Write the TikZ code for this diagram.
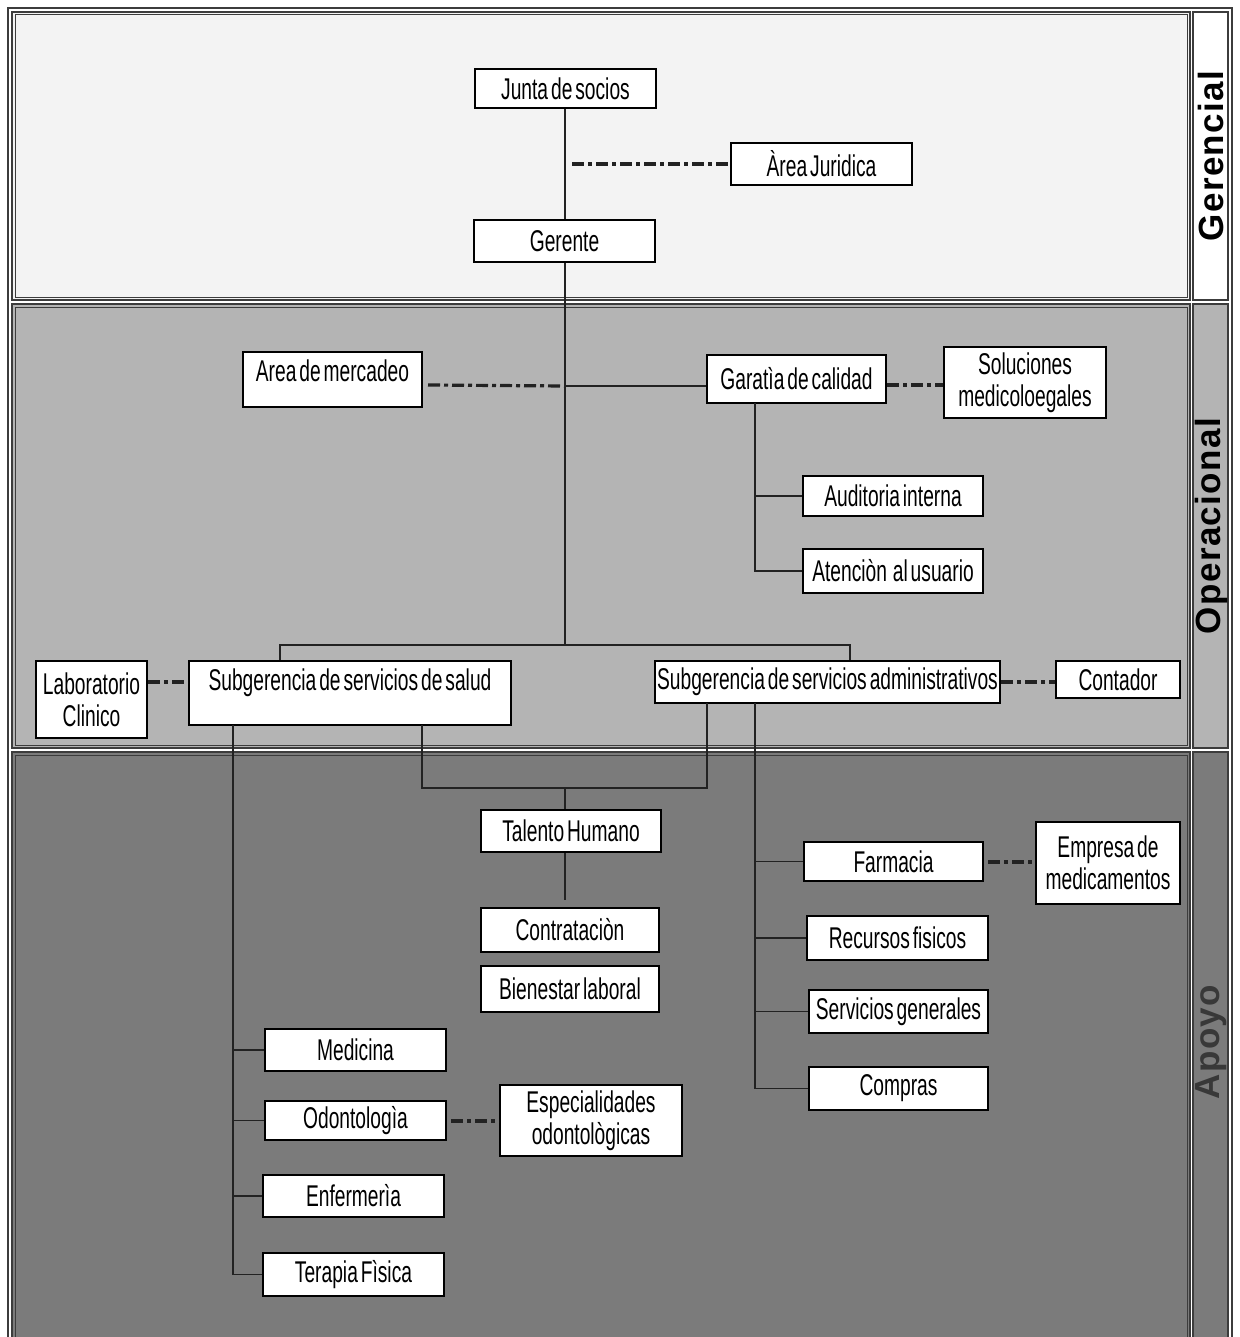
\documentclass[tikz,border=0pt]{standalone}
\usepackage{fontspec}
\setmainfont[FakeStretch=0.64, WordSpace=0.55]{Liberation Sans}
\newfontfamily\sidefont[LetterSpace=4]{Liberation Sans}
\usetikzlibrary{calc}
\definecolor{gerfill}{HTML}{F3F3F3}
\definecolor{opfill}{HTML}{B4B4B4}
\definecolor{apfill}{HTML}{7B7B7B}
\definecolor{bandline}{HTML}{3C3C3C}
\definecolor{connline}{HTML}{222222}
\tikzset{
  box/.style={draw=black, fill=white, line width=1pt, inner sep=0pt, font=\fontsize{15pt}{16pt}\selectfont, align=center},
  conn/.style={draw=connline, line width=0.9pt},
  dd/.style={draw=connline, line width=1.6pt, dash pattern=on 6pt off 2pt on 2pt off 2pt},
  band/.style={draw=bandline, line width=0.9pt},
  sidelabel/.style={font=\sidefont\bfseries\fontsize{17.5pt}{18pt}\selectfont, rotate=90, inner sep=0pt}
}
% \bx[opts]{name}{x1}{y1}{x2}{y2}{text}
\newcommand{\bx}[7][]{\node[box, minimum width={(#5-#3)*0.5pt}, minimum height={(#6-#4)*0.5pt}, #1] (#2) at ({(#3+#5)/2},{(#4+#6)/2}) {#7};}
\begin{document}
\begin{tikzpicture}[x=0.5pt,y=-0.5pt]
\useasboundingbox (0,0) rectangle (1240,1337);
\fill[white] (0,0) rectangle (1240,1337);
% outer frame
\draw[band] (8,1345) -- (8,8) -- (1232,8) -- (1232,1345);
% bands
\filldraw[band, fill=gerfill] (12,12) rectangle (1190,300);
\filldraw[band, fill=white] (1193,12) rectangle (1228,300);
\filldraw[band, fill=opfill] (12,304) rectangle (1190,748);
\filldraw[band, fill=opfill] (1193,304) rectangle (1228,748);
\filldraw[band, fill=apfill] (12,752) rectangle (1190,1345);
\filldraw[band, fill=apfill] (1193,752) rectangle (1228,1345);
\draw[bandline, line width=0.5pt] (15,15) rectangle (1187,297);
\draw[bandline, line width=0.5pt] (15,307) rectangle (1187,745);
\draw[bandline, line width=0.5pt] (15,755) rectangle (1187,1345);
% side labels
\node[sidelabel] (lger) at (1211,156) {Gerencial};
\node[sidelabel] (lop) at (1211,526) {Operacional};
\node[sidelabel, text=black!78] (lap) at (1211,1042) {Apoyo};

% nodes
\bx{junta}{475}{69}{656}{108}{Junta de socios}
\bx{jur}{731}{143}{912}{185}{Àrea Juridica}
\bx{ger}{474}{220}{655}{262}{Gerente}
\bx[text depth=9pt]{merc}{243}{352}{422}{407}{Area de mercadeo}
\bx{gar}{707}{355}{886}{403}{Garatìa de calidad}
\bx{sol}{944}{347}{1106}{418}{Soluciones\\medicoloegales}
\bx{aud}{803}{476}{983}{516}{Auditoria interna}
\bx{ate}{803}{549}{983}{593}{Atenciòn\ \ al usuario}
\bx{lab}{36}{661}{147}{738}{Laboratorio\\Clinico}
\bx[text depth=13pt]{sal}{189}{661}{511}{725}{Subgerencia de servicios de salud}
\bx{adm}{655}{661}{1000}{703}{Subgerencia de servicios administrativos}
\bx{cont}{1056}{661}{1180}{698}{Contador}
\bx{tal}{481}{810}{661}{852}{Talento Humano}
\bx{contr}{481}{908}{659}{952}{Contrataciòn}
\bx{bien}{481}{966}{659}{1012}{Bienestar laboral}
\bx{far}{804}{842}{983}{881}{Farmacia}
\bx{emp}{1036}{822}{1180}{904}{Empresa de\\medicamentos}
\bx{rec}{807}{916}{988}{960}{Recursos fisicos}
\bx{serv}{809}{990}{988}{1033}{Servicios generales}
\bx{com}{809}{1067}{988}{1110}{Compras}
\bx{med}{265}{1029}{446}{1071}{Medicina}
\bx{odo}{265}{1101}{446}{1140}{Odontologìa}
\bx{esp}{500}{1085}{682}{1156}{Especialidades\\odontològicas}
\bx{enf}{263}{1175}{444}{1217}{Enfermerìa}
\bx{ter}{263}{1253}{444}{1296}{Terapia Fìsica}

% coordinates
\coordinate (jd) at (572,164);
\coordinate (hub) at (565,645);
\coordinate (hm) at (565,386);
\coordinate (md) at (428,385);
\coordinate (c1) at (280,645);
\coordinate (c2) at (850,645);
\coordinate (gv) at (755,403);
\coordinate (y682) at (0,682);
\coordinate (sv) at (233,725);
\coordinate (s2) at (422,725);
\coordinate (k1) at (422,788);
\coordinate (k2) at (707,788);
\coordinate (k3) at (707,703);
\coordinate (tk) at (565,788);
\coordinate (tend) at (565,900);
\coordinate (av) at (755,703);
\coordinate (y862) at (0,862);
\coordinate (y1121) at (0,1121);

% solid connectors
\draw[conn] (hub |- junta.south) -- (hub |- ger.north);
\draw[conn] (hub |- ger.south) -- (hub);
\draw[conn] (hm) -- (hm -| gar.west);
\draw[conn] (c1 |- sal.north) -- (c1) -- (c2) -- (c2 |- adm.north);
\draw[conn] (gv) |- (aud.west);
\draw[conn] (gv) |- (ate.west);
\draw[conn] (sv) |- (ter.west);
\draw[conn] (sv |- med.west) -- (med.west);
\draw[conn] (sv |- odo.west) -- (odo.west);
\draw[conn] (sv |- enf.west) -- (enf.west);
\draw[conn] (s2) -- (k1) -- (k2) -- (k3);
\draw[conn] (tk) -- (tk |- tal.north);
\draw[conn] (tk |- tal.south) -- (tend);
\draw[conn] (av) |- (com.west);
\draw[conn] (av |- far.west) -- (far.west);
\draw[conn] (av |- rec.west) -- (rec.west);
\draw[conn] (av |- serv.west) -- (serv.west);

% dash-dot connectors
\draw[dd] (jd) -- (jd -| jur.west);
\draw[dd] (md) -- (hm);
\draw[dd] (gar.east |- md) -- (sol.west |- md);
\draw[dd] (lab.east |- y682) -- (sal.west |- y682);
\draw[dd] (adm.east |- y682) -- (cont.west |- y682);
\draw[dd] ($(far.east |- y862)+(4,0)$) -- (emp.west |- y862);
\draw[dd] ($(odo.east |- y1121)+(4,0)$) -- (esp.west |- y1121);
\end{tikzpicture}
\end{document}
